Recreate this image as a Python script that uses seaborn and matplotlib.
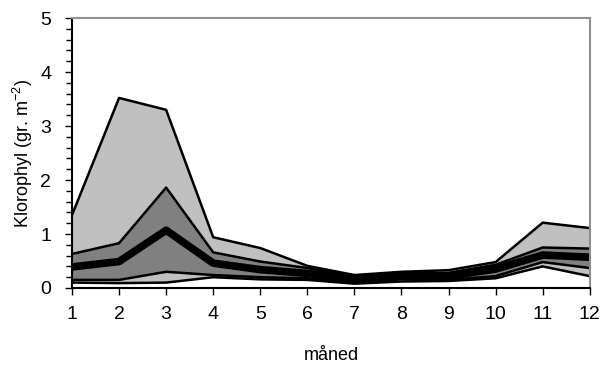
import matplotlib
matplotlib.use('Agg')
import matplotlib.pyplot as plt
import seaborn as sns
import numpy as np
import pandas as pd
from matplotlib.ticker import MultipleLocator

# monthly chlorophyll percentiles (gr. m^-2)
months = list(range(1, 13))
chl_max = [1.35, 3.52, 3.30, 0.94, 0.74, 0.41, 0.24, 0.30, 0.33, 0.48, 1.21, 1.11]
chl_hi = [0.63, 0.83, 1.86, 0.66, 0.49, 0.37, 0.21, 0.27, 0.28, 0.43, 0.75, 0.73]
chl_med = [0.39, 0.49, 1.07, 0.46, 0.34, 0.27, 0.17, 0.24, 0.22, 0.35, 0.61, 0.57]
chl_lo = [0.15, 0.15, 0.30, 0.24, 0.20, 0.18, 0.10, 0.16, 0.15, 0.22, 0.48, 0.37]
chl_min = [0.10, 0.09, 0.10, 0.20, 0.16, 0.15, 0.08, 0.12, 0.13, 0.18, 0.40, 0.22]

df = pd.DataFrame({'month': months, 'max': chl_max, 'hi': chl_hi,
                   'med': chl_med, 'lo': chl_lo, 'min': chl_min})

sns.set_style("white")
plt.rcParams['font.family'] = ['Liberation Sans', 'DejaVu Sans']
plt.rcParams['mathtext.default'] = 'regular'
plt.rcParams['text.color'] = 'black'
plt.rcParams['axes.labelcolor'] = 'black'
plt.rcParams['xtick.color'] = 'black'
plt.rcParams['ytick.color'] = 'black'

fig = plt.figure(figsize=(6.03, 3.68), dpi=100)
ax = fig.add_axes([0.1194, 0.2174, 0.8586, 0.7336])

light = '#C0C0C0'
dark = '#808080'
ax.fill_between(df['month'], df['hi'], df['max'], color=light, lw=0)
ax.fill_between(df['month'], df['lo'], df['hi'], color=dark, lw=0)
ax.fill_between(df['month'], df['min'], df['lo'], color=light, lw=0)

for col in ['max', 'hi', 'lo', 'min']:
    sns.lineplot(data=df, x='month', y=col, color='black', lw=1.8, ax=ax)
sns.lineplot(data=df, x='month', y='med', color='black', lw=5.5, ax=ax)

ax.set_xlim(1, 12)
ax.set_ylim(0, 5)
ax.set_xticks(months)
ax.set_yticks(range(0, 6))
ax.yaxis.set_minor_locator(MultipleLocator(0.2))
ax.tick_params(axis='both', which='major', direction='out', length=5, width=1,
               labelsize=14, left=True, bottom=True)
ax.tick_params(axis='x', which='major', pad=8)
ax.tick_params(axis='y', which='major', pad=10)
ax.tick_params(axis='y', which='minor', direction='out', length=4, width=1,
               left=True)
ax.set_xlabel('måned', fontsize=13, labelpad=17)
ax.set_ylabel('Klorophyl (gr. m$^{-2}$)', fontsize=13, labelpad=4)

for s in ['left', 'bottom']:
    ax.spines[s].set_color('black')
    ax.spines[s].set_linewidth(1.5)
for s in ['top', 'right']:
    ax.spines[s].set_color('#909090')
    ax.spines[s].set_linewidth(1.5)

fig.savefig('out.png', dpi=100)
